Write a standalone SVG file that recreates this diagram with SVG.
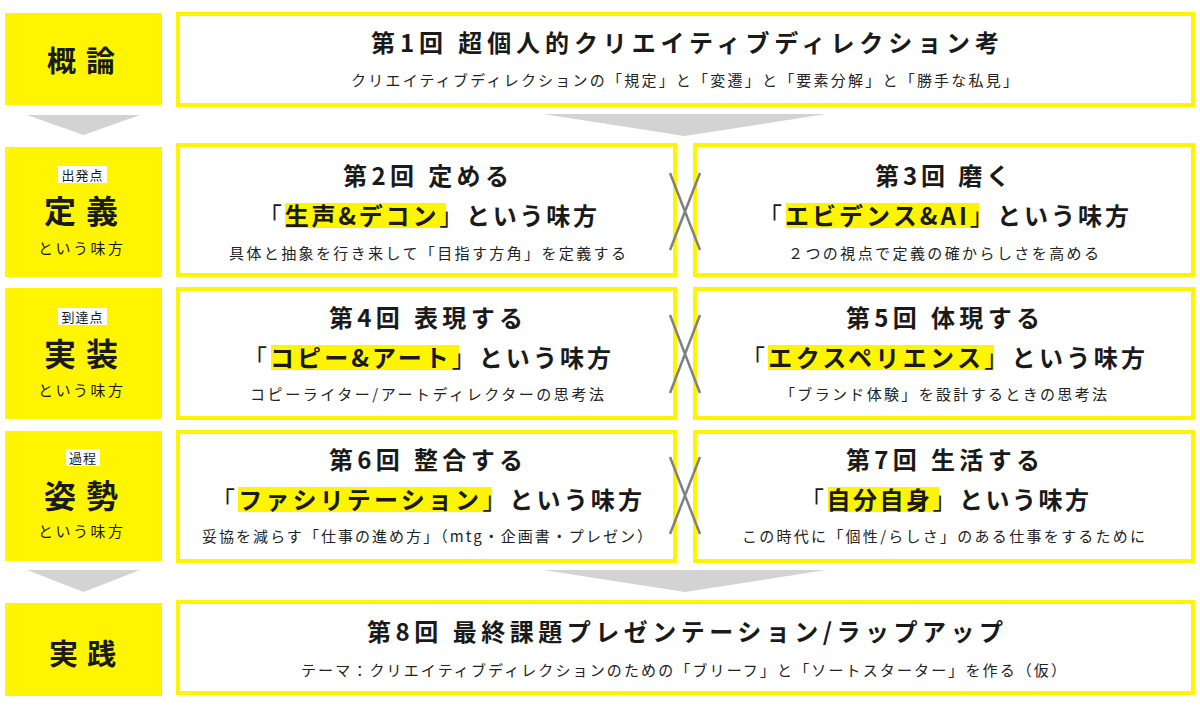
<svg xmlns="http://www.w3.org/2000/svg" width="1200" height="707" viewBox="0 0 1200 707">
<style>
.lab{fill:#FFF500}
.box{fill:#fff;stroke:#FFF500;stroke-width:4}
.hl{fill:#FFF500}
.badge{fill:#fff}
text{font-family:"Noto Sans CJK JP","Noto Sans",sans-serif;fill:#1a1a1a}
.ti{font-size:24px;font-weight:700}
.l2{font-size:24px;font-weight:700}
.br{font-weight:400}
.sub{font-size:15px;font-weight:400;fill:#222}
.big{font-size:29px;font-weight:700}
.big2{font-size:32px;font-weight:700}
.sm{font-size:13px;font-weight:400}
.lsub{font-size:15px;font-weight:400}
.arrow{fill:#D3D3D3}
.xm{stroke:#808080;stroke-width:2.5;fill:none}
</style>
<rect width="1200" height="707" fill="#fff"/>

<g id="label-gairon">
<rect class="lab" x="5" y="13" width="157" height="92"/>
<text class="big" x="47" y="72" textLength="68">概論</text>
</g>
<g id="label-teigi">
<rect class="lab" x="5" y="147" width="157" height="130"/>
<rect class="badge" x="58" y="166" width="49" height="17"/>
<text class="sm" x="82.5" y="180" text-anchor="middle" letter-spacing="1">出発点</text>
<text class="big2" x="44" y="223" textLength="74">定義</text>
<text class="lsub" x="38" y="254" textLength="85">という味方</text>
</g>
<g id="label-jisso">
<rect class="lab" x="5" y="288" width="157" height="131"/>
<rect class="badge" x="58" y="308" width="49" height="17"/>
<text class="sm" x="82.5" y="322" text-anchor="middle" letter-spacing="1">到達点</text>
<text class="big2" x="44" y="366" textLength="74">実装</text>
<text class="lsub" x="38" y="396" textLength="85">という味方</text>
</g>
<g id="label-shisei">
<rect class="lab" x="5" y="431" width="157" height="130"/>
<rect class="badge" x="66" y="449" width="34" height="17"/>
<text class="sm" x="83" y="463" text-anchor="middle" letter-spacing="1">過程</text>
<text class="big2" x="44" y="508" textLength="74">姿勢</text>
<text class="lsub" x="38" y="537" textLength="85">という味方</text>
</g>
<g id="label-jissen">
<rect class="lab" x="5" y="603" width="157" height="93"/>
<text class="big" x="49" y="665" textLength="67">実践</text>
</g>

<g id="session1">
<rect class="box" x="178" y="14" width="1015" height="91"/>
<text class="ti" x="371" y="52" textLength="628">第1回 超個人的クリエイティブディレクション考</text>
<text class="sub" x="351" y="86" textLength="667">クリエイティブディレクションの「規定」と「変遷」と「要素分解」と「勝手な私見」</text>
</g>

<g id="session2">
<rect class="box" x="178" y="145" width="497" height="130"/>
<rect class="hl" x="285" y="203" width="161" height="25"/>
<text class="ti" x="343" y="185" textLength="166">第2回 定める</text>
<text class="l2" x="258" y="225" textLength="339"><tspan class="br">「</tspan>生声&amp;デコン<tspan class="br">」</tspan>という味方</text>
<text class="sub" x="229" y="259" textLength="397">具体と抽象を行き来して「目指す方角」を定義する</text>
</g>

<g id="session3">
<rect class="box" x="695" y="145" width="498" height="130"/>
<rect class="hl" x="786" y="203" width="193" height="25"/>
<text class="ti" x="875" y="185" textLength="135">第3回 磨く</text>
<text class="l2" x="758" y="225" textLength="371"><tspan class="br">「</tspan>エビデンス&amp;AI<tspan class="br">」</tspan>という味方</text>
<text class="sub" x="788" y="259" textLength="311">２つの視点で定義の確からしさを高める</text>
</g>

<g id="session4">
<rect class="box" x="178" y="289" width="497" height="129"/>
<rect class="hl" x="271" y="345" width="188" height="25"/>
<text class="ti" x="329" y="327" textLength="194">第4回 表現する</text>
<text class="l2" x="243" y="367" textLength="368"><tspan class="br">「</tspan>コピー&amp;アート<tspan class="br">」</tspan>という味方</text>
<text class="sub" x="250" y="400" textLength="354">コピーライター/アートディレクターの思考法</text>
</g>

<g id="session5">
<rect class="box" x="695" y="289" width="498" height="129"/>
<rect class="hl" x="768" y="345" width="226" height="25"/>
<text class="ti" x="846" y="327" textLength="194">第5回 体現する</text>
<text class="l2" x="741" y="367" textLength="404"><tspan class="br">「</tspan>エクスペリエンス<tspan class="br">」</tspan>という味方</text>
<text class="sub" x="780" y="400" textLength="327">「ブランド体験」を設計するときの思考法</text>
</g>

<g id="session6">
<rect class="box" x="178" y="432" width="497" height="129"/>
<rect class="hl" x="238" y="487" width="254" height="25"/>
<text class="ti" x="329" y="469" textLength="194">第6回 整合する</text>
<text class="l2" x="211" y="509" textLength="431"><tspan class="br">「</tspan>ファシリテーション<tspan class="br">」</tspan>という味方</text>
<text class="sub" x="202" y="542" textLength="450">妥協を減らす「仕事の進め方」（mtg・企画書・プレゼン）</text>
</g>

<g id="session7">
<rect class="box" x="695" y="432" width="498" height="129"/>
<rect class="hl" x="828" y="487" width="111" height="25"/>
<text class="ti" x="846" y="469" textLength="194">第7回 生活する</text>
<text class="l2" x="800" y="509" textLength="289"><tspan class="br">「</tspan>自分自身<tspan class="br">」</tspan>という味方</text>
<text class="sub" x="742" y="542" textLength="403">この時代に「個性/らしさ」のある仕事をするために</text>
</g>

<g id="session8">
<rect class="box" x="178" y="602" width="1015" height="91"/>
<text class="ti" x="367" y="641" textLength="636">第8回 最終課題プレゼンテーション/ラップアップ</text>
<text class="sub" x="301" y="676" textLength="765">テーマ：クリエイティブディレクションのための「ブリーフ」と「ソートスターター」を作る（仮）</text>
</g>

<g id="connectors">
<polygon class="arrow" points="27,115 140,115 83.5,135"/>
<polygon class="arrow" points="543,114 826,114 684.5,136"/>
<polygon class="arrow" points="27,570 140,570 83.5,592"/>
<polygon class="arrow" points="543,570 826,570 685,592"/>
<path class="xm" d="M670,173 L700,250 M700,173 L670,250"/>
<path class="xm" d="M670,315 L700,393 M700,315 L670,393"/>
<path class="xm" d="M670,457 L700,534 M700,457 L670,534"/>
</g>
</svg>
